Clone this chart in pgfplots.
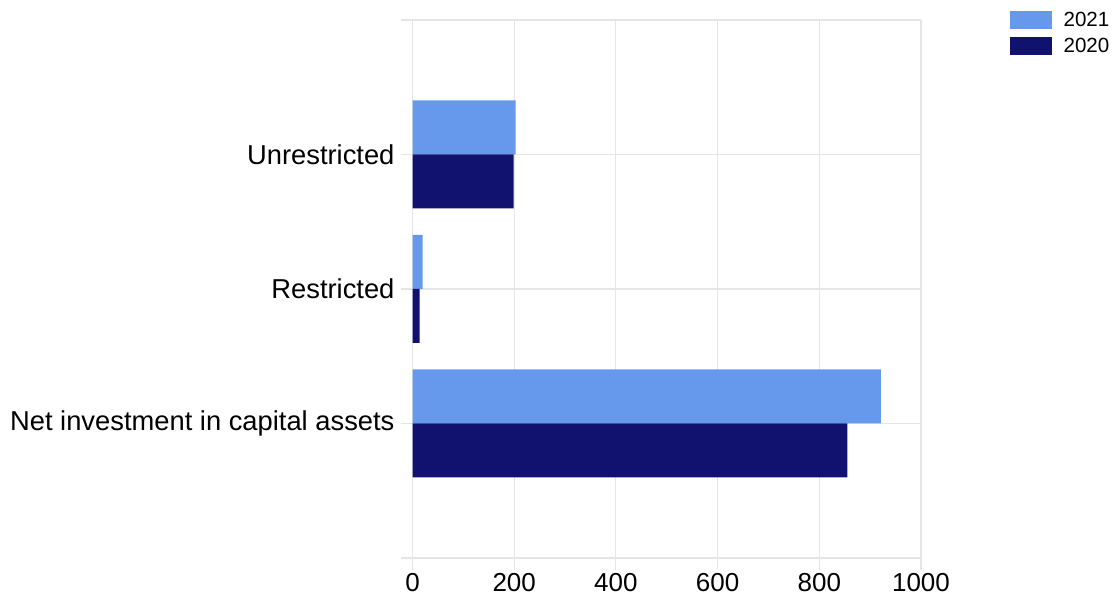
\documentclass[border=0pt]{standalone}
\usepackage{fontspec}
\setmainfont{Liberation Sans}
\usepackage{pgfplots}
\pgfplotsset{compat=1.18}
\definecolor{c2021}{RGB}{102,153,236}
\definecolor{c2020}{RGB}{17,17,112}
\definecolor{gridc}{RGB}{229,229,229}
\begin{document}
\begin{tikzpicture}
\useasboundingbox (-309.4pt,-32.25pt) rectangle (526.9pt,418.5pt);
\begin{axis}[
  scale only axis,
  width=381.4pt, height=403.5pt,
  xmin=0, xmax=1000, ymin=-1, ymax=3,
  xbar, bar width=40.5pt,
  axis line style={draw=none},
  xtick={0,200,400,600,800,1000},
  ytick={-1,0,1,2,3},
  yticklabels={,Net investment in capital assets,Restricted,Unrestricted,},
  grid=major,
  major grid style={gridc, line width=0.8pt},
  tick style={gridc, line width=0.8pt},
  tick align=outside,
  major tick length=9pt,
  xtick pos=bottom, ytick pos=left,
  /pgf/number format/assume math mode=true,
  /pgf/number format/1000 sep={},
  xticklabel style={font=\fontsize{19.5}{20}\selectfont, yshift=1pt},
  yticklabel style={font=\fontsize{20.5}{22}\selectfont, xshift=-1pt},
  legend style={draw=none, fill=none, inner sep=0pt, at={(1.175,1.02)}, anchor=north west,
    font=\fontsize{15.4}{16}\selectfont, row sep=3pt, cells={anchor=west}},
  legend image code/.code={\fill[#1] (0pt,-6.75pt) rectangle (31pt,6.75pt);},
]
\addplot[fill=c2021, draw=none, bar shift=20.25pt] coordinates {(921,0) (20,1) (203,2)};
\addlegendentry{\hspace{7pt}2021}
\addplot[fill=c2020, draw=none, bar shift=-20.25pt] coordinates {(855,0) (14,1) (199,2)};
\addlegendentry{\hspace{7pt}2020}
\end{axis}
\end{tikzpicture}
\end{document}
